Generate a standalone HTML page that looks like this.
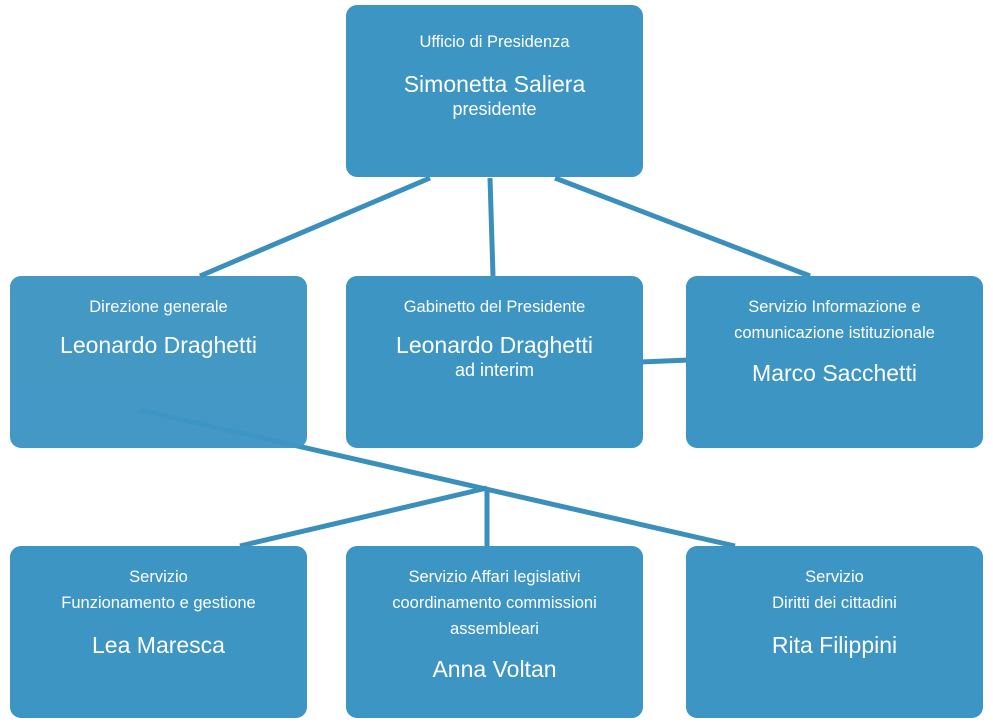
<!DOCTYPE html>
<html><head><style>
body{margin:0;width:993px;height:727px;background:#fff;position:relative;overflow:hidden;font-family:"Liberation Sans",sans-serif;}
.b{position:absolute;width:297px;height:172px;background:#3d95c3;border-radius:11px;color:#fff;text-align:center;box-sizing:border-box;}
.s{font-size:16.5px;line-height:26px;}
.n{font-size:23px;line-height:30px;}
.i{font-size:18px;line-height:20px;}
svg{position:absolute;left:0;top:0;}
</style></head><body>
<svg width="993" height="727"><g stroke="#3a8fbd" stroke-width="5" fill="none">
<line x1="430" y1="178" x2="200" y2="276"/>
<line x1="490" y1="178" x2="493" y2="276"/>
<line x1="555" y1="178" x2="810" y2="276"/>
<line x1="640" y1="362" x2="690" y2="360"/>
<line x1="140" y1="410" x2="735" y2="546"/>
<line x1="487" y1="488" x2="240" y2="546"/>
<line x1="487" y1="488" x2="487" y2="546"/>
</g></svg>
<div class="b" style="left:346px;top:5px;padding-top:24px"><div class="s">Ufficio di Presidenza</div><div class="n" style="margin-top:14px">Simonetta Saliera</div><div class="i">presidente</div></div>
<div class="b" style="left:10px;top:276px;padding-top:18px;opacity:.97"><div class="s">Direzione generale</div><div class="n" style="margin-top:10px">Leonardo Draghetti</div></div>
<div class="b" style="left:346px;top:276px;padding-top:18px"><div class="s">Gabinetto del Presidente</div><div class="n" style="margin-top:10px">Leonardo Draghetti</div><div class="i">ad interim</div></div>
<div class="b" style="left:686px;top:276px;padding-top:18px"><div class="s">Servizio Informazione e<br>comunicazione istituzionale</div><div class="n" style="margin-top:12px">Marco Sacchetti</div></div>
<div class="b" style="left:10px;top:546px;padding-top:18px"><div class="s">Servizio<br>Funzionamento e gestione</div><div class="n" style="margin-top:14px">Lea Maresca</div></div>
<div class="b" style="left:346px;top:546px;padding-top:18px"><div class="s">Servizio Affari legislativi<br>coordinamento commissioni<br>assembleari</div><div class="n" style="margin-top:12px">Anna Voltan</div></div>
<div class="b" style="left:686px;top:546px;padding-top:18px"><div class="s">Servizio<br>Diritti dei cittadini</div><div class="n" style="margin-top:14px">Rita Filippini</div></div>
</body></html>
